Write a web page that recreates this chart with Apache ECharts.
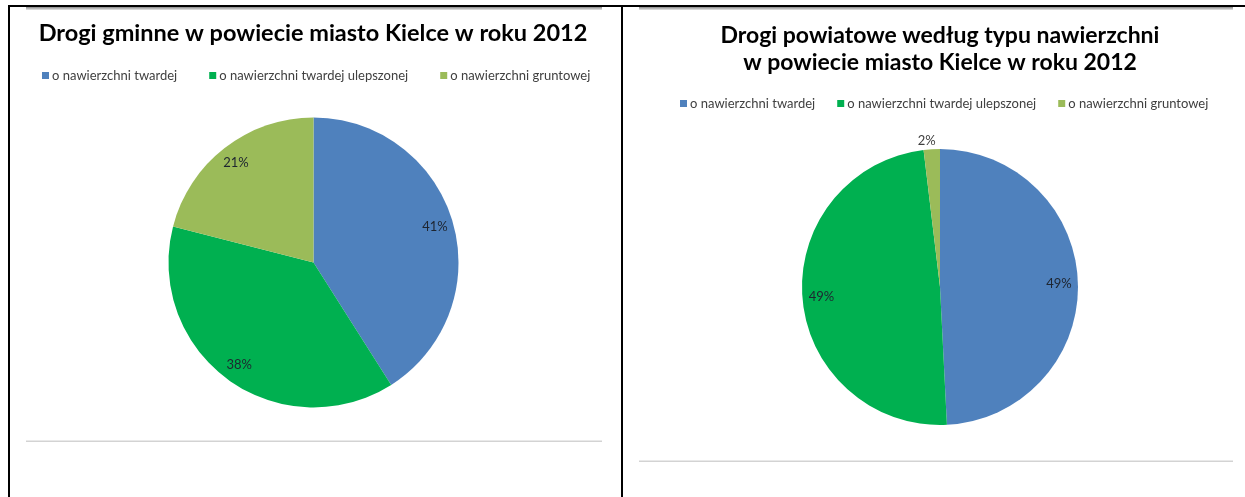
<!DOCTYPE html>
<html><head><meta charset="utf-8">
<script src="https://cdn.jsdelivr.net/npm/echarts@6/dist/echarts.min.js"></script>
<style>html,body{margin:0;padding:0;background:#fff}#c{width:1245px;height:497px}</style>
</head><body><div id="c"></div><script>
// ---- data ----
const categories = ['o nawierzchni twardej', 'o nawierzchni twardej ulepszonej', 'o nawierzchni gruntowej'];
const gminneValues = [41, 38, 21];
const powiatoweValues = [49.2, 48.9, 1.9];
const titleLeftText = 'Drogi gminne w powiecie miasto Kielce w roku 2012';
const titleRightText = 'Drogi powiatowe według typu nawierzchni\nw powiecie miasto Kielce w roku 2012';
const sliceColors = ['#4F81BD', '#00B050', '#9BBB59'];

const FONT = 'Lato, "Open Sans", sans-serif';
const chart = echarts.init(document.getElementById('c'), null, {renderer: 'canvas'});

function pieData(vals) {
  return categories.map((n, i) => ({name: n, value: vals[i], itemStyle: {color: sliceColors[i]}}));
}
function labelData(vals, outsideIdx) {
  return categories.map((n, i) => {
    const d = {name: n, value: vals[i]};
    if (i === outsideIdx) {
      d.label = {position: 'outside', distance: 0, color: '#404040'};
      d.labelLine = {show: false, length: 0, length2: 0};
    }
    return d;
  });
}
const pct = p => Math.round(p.value) + '%';

function mainPie(center, r, vals) {
  return {
    type: 'pie', center: center, radius: [0, r], startAngle: 90, clockwise: true,
    data: pieData(vals), label: {show: false}, labelLine: {show: false},
    itemStyle: {borderWidth: 0}, emphasis: {disabled: true}, silent: true, animation: false
  };
}
function labelPie(center, r0, r, vals, outsideIdx) {
  return {
    type: 'pie', center: center, radius: [r0, r], startAngle: 90, clockwise: true,
    data: labelData(vals, outsideIdx), avoidLabelOverlap: false,
    itemStyle: {color: 'rgba(0,0,0,0)', borderWidth: 0},
    label: {show: true, position: 'inside', formatter: pct, fontFamily: FONT, fontSize: 13, color: '#1e2530'},
    labelLine: {show: false},
    labelLayout: function (p) {
      if (p.dataIndex === outsideIdx) return {align: 'center', verticalAlign: 'bottom', dy: -2};
      return {};
    },
    emphasis: {disabled: true}, silent: true, animation: false, legendHoverLink: false
  };
}

const legendCommon = {
  orient: 'horizontal', icon: 'rect', itemWidth: 7, itemHeight: 7, itemGap: 32,
  selectedMode: false, textStyle: {fontFamily: FONT, fontSize: 13, color: '#404040', padding: [0, 0, 0, -2]},
  data: categories
};

const option = {
  backgroundColor: '#fff',
  animation: false,
  title: [
    {text: titleLeftText, left: 313, top: 21, textAlign: 'center', padding: 0,
     textStyle: {fontFamily: FONT, fontWeight: 'bold', fontSize: 23.5, color: '#000'}},
    {text: titleRightText, left: 940, top: 22, textAlign: 'center', padding: 0,
     textStyle: {fontFamily: FONT, fontWeight: 'bold', fontSize: 23, color: '#000', lineHeight: 27}}
  ],
  legend: [
    Object.assign({}, legendCommon, {left: 37, top: 64}),
    Object.assign({}, legendCommon, {left: 675, top: 92, itemGap: 22})
  ],
  series: [
    mainPie([313.5, 262.5], 145, gminneValues),
    mainPie([940, 287], 138, powiatoweValues),
    labelPie([313.5, 262.5], 102, 145, gminneValues, -1),
    labelPie([940, 287], 94, 138, powiatoweValues, 2)
  ],
  graphic: [
    {type: 'rect', shape: {x: 26, y: 7, width: 576, height: 3}, style: {fill: new echarts.graphic.LinearGradient(0, 0, 0, 1, [{offset: 0, color: '#8a8a8a'}, {offset: 1, color: '#e6e6e6'}])}, silent: true},
    {type: 'rect', shape: {x: 639, y: 7, width: 594, height: 3}, style: {fill: new echarts.graphic.LinearGradient(0, 0, 0, 1, [{offset: 0, color: '#8a8a8a'}, {offset: 1, color: '#e6e6e6'}])}, silent: true},
    {type: 'rect', shape: {x: 8, y: 5, width: 1237, height: 2}, style: {fill: '#000'}, silent: true},
    {type: 'rect', shape: {x: 8, y: 5, width: 2, height: 492}, style: {fill: '#000'}, silent: true},
    {type: 'rect', shape: {x: 621, y: 5, width: 2, height: 492}, style: {fill: '#000'}, silent: true},
    {type: 'rect', shape: {x: 26, y: 440.5, width: 576, height: 1.5}, style: {fill: '#d3d3d3'}, silent: true},
    {type: 'rect', shape: {x: 639, y: 460.5, width: 594, height: 1.5}, style: {fill: '#d3d3d3'}, silent: true}
  ]
};
chart.setOption(option);
</script></body></html>
